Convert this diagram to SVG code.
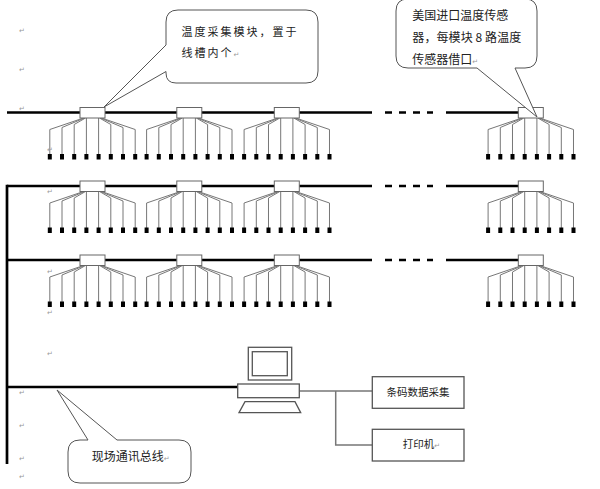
<svg xmlns="http://www.w3.org/2000/svg" xmlns:xlink="http://www.w3.org/1999/xlink" width="600" height="489" viewBox="0 0 600 489">
<style>
.bus{stroke:#000;stroke-width:2.7;fill:none}
.wire{stroke:#777;stroke-width:1;fill:none}
.mod{fill:#fff;stroke:#666;stroke-width:1}
.sq{fill:#000}
.callout{fill:#fff;stroke:#555;stroke-width:1}
.pc{fill:#fff;stroke:#555;stroke-width:1.3}
.conn{stroke:#777;stroke-width:1.5;fill:none}
.box{fill:#fff;stroke:#555;stroke-width:1.3}
.t{font-family:"Noto Sans CJK SC","Noto Sans",sans-serif;font-size:10.5px;fill:#222}
.tl{font-family:"Noto Sans CJK SC","Noto Sans",sans-serif;font-size:12px;fill:#222}
.ts{font-family:"Noto Sans CJK SC","Noto Sans",sans-serif;font-size:11px;fill:#222;letter-spacing:2px}
.pm{font-family:"DejaVu Sans",sans-serif;font-size:7px;fill:#999}
</style>
<defs>
<g id="module">
<path class="wire" d="M-9,5.5 L-42.7,17 V42 M-8,5.5 L-30.5,15 V42 M-7,5.5 L-18.3,12 V42 M-6.1,5.5 V42 M6.1,5.5 V42 M7,5.5 L18.3,12 V42 M8,5.5 L30.5,15 V42 M9,5.5 L42.7,17 V42"/>
<rect class="sq" x="-44.7" y="41.5" width="4" height="5.5"/>
<rect class="sq" x="-32.5" y="41.5" width="4" height="5.5"/>
<rect class="sq" x="-20.3" y="41.5" width="4" height="5.5"/>
<rect class="sq" x="-8.1" y="41.5" width="4" height="5.5"/>
<rect class="sq" x="4.1" y="41.5" width="4" height="5.5"/>
<rect class="sq" x="16.3" y="41.5" width="4" height="5.5"/>
<rect class="sq" x="28.5" y="41.5" width="4" height="5.5"/>
<rect class="sq" x="40.7" y="41.5" width="4" height="5.5"/>
<rect class="mod" x="-12.5" y="-5" width="25" height="10.5"/>
</g>
</defs>

<g id="connectors">
<path class="bus" d="M7,112.5 H372 M446,112.5 H519"/>
<path class="bus" d="M7,186 H372 M446,186 H519"/>
<path class="bus" d="M7,260 H372 M446,260 H519"/>
<path class="bus" d="M385,112.5 H433 M385,186 H433 M385,260 H433" stroke-dasharray="7,7"/>
<path class="bus" d="M7,184.7 V464"/>
<path class="bus" d="M7,387 H238"/>
<path class="conn" d="M299,391 H372.3 M335.7,391 V445 H372.3"/>
</g>

<g id="row1">
<use xlink:href="#module" x="92.5" y="112.5"/>
<use xlink:href="#module" x="189.3" y="112.5"/>
<use xlink:href="#module" x="286.8" y="112.5"/>
<use xlink:href="#module" x="530.8" y="112.5"/>
</g>
<g id="row2">
<use xlink:href="#module" x="92.5" y="186"/>
<use xlink:href="#module" x="189.3" y="186"/>
<use xlink:href="#module" x="286.8" y="186"/>
<use xlink:href="#module" x="530.8" y="186"/>
</g>
<g id="row3">
<use xlink:href="#module" x="92.5" y="260"/>
<use xlink:href="#module" x="189.3" y="260"/>
<use xlink:href="#module" x="286.8" y="260"/>
<use xlink:href="#module" x="530.8" y="260"/>
</g>

<g id="computer">
<rect class="pc" x="248.3" y="347.3" width="43.4" height="32.7"/>
<rect class="pc" x="252.3" y="351.7" width="35" height="24"/>
<rect class="pc" x="237.7" y="384" width="61.6" height="13.7"/>
<path class="pc" d="M245,401.7 H295 L300.7,412.7 H239 Z"/>
</g>

<g id="barcode">
<rect class="box" x="372.3" y="376.7" width="91.7" height="31.6"/>
<text class="t" x="418" y="396" text-anchor="middle">条码数据采集</text>
</g>
<g id="printer">
<rect class="box" x="372.3" y="429.3" width="91.7" height="31.7"/>
<text class="t" x="402.7" y="447.5">打印机<tspan class="pm">↵</tspan></text>
</g>

<g id="callout-module">
<path class="callout" d="M178,10 H306 Q318,10 318,22 V71 Q318,83 306,83 H176 Q166,83 166,73 V71.5 L104,107 L166,45 V22 Q166,10 178,10 Z"/>
<text class="ts" x="181.5" y="36">温度采集模块，置于</text>
<text class="ts" x="181.5" y="57">线槽内个<tspan class="pm" style="letter-spacing:0">↵</tspan></text>
</g>

<g id="callout-sensor">
<path class="callout" d="M408,-1 H525 Q537,-1 537,11 V56 Q537,68 525,68 H515 L537,117 L477,68 H408 Q396,68 396,56 V11 Q396,-1 408,-1 Z"/>
<text class="tl" x="412.3" y="20" textLength="96" lengthAdjust="spacing">美国进口温度传感</text>
<text class="tl" x="412.3" y="42" textLength="109" lengthAdjust="spacing">器，每模块 8 路温度</text>
<text class="tl" x="412.3" y="63.5">传感器借口<tspan class="pm">↵</tspan></text>
</g>

<g id="callout-bus">
<path class="callout" d="M80,440 H88 L57,390 L117,440 H179 Q191,440 191,452 V471 Q191,483 179,483 H80 Q68,483 68,471 V452 Q68,440 80,440 Z"/>
<text class="tl" x="91.7" y="461">现场通讯总线<tspan class="pm">↵</tspan></text>
</g>

<g id="marks">
<text class="pm" x="19" y="33">↵</text>
<text class="pm" x="19" y="72">↵</text>
<text class="pm" x="19" y="111">↵</text>
<text class="pm" x="47" y="152">↵</text>
<text class="pm" x="47" y="194">↵</text>
<text class="pm" x="47" y="274">↵</text>
<text class="pm" x="47" y="315">↵</text>
<text class="pm" x="47" y="356">↵</text>
<text class="pm" x="19" y="395">↵</text>
<text class="pm" x="19" y="428">↵</text>
<text class="pm" x="19" y="461">↵</text>
<text class="pm" x="19" y="479">↵</text>
</g>
</svg>
